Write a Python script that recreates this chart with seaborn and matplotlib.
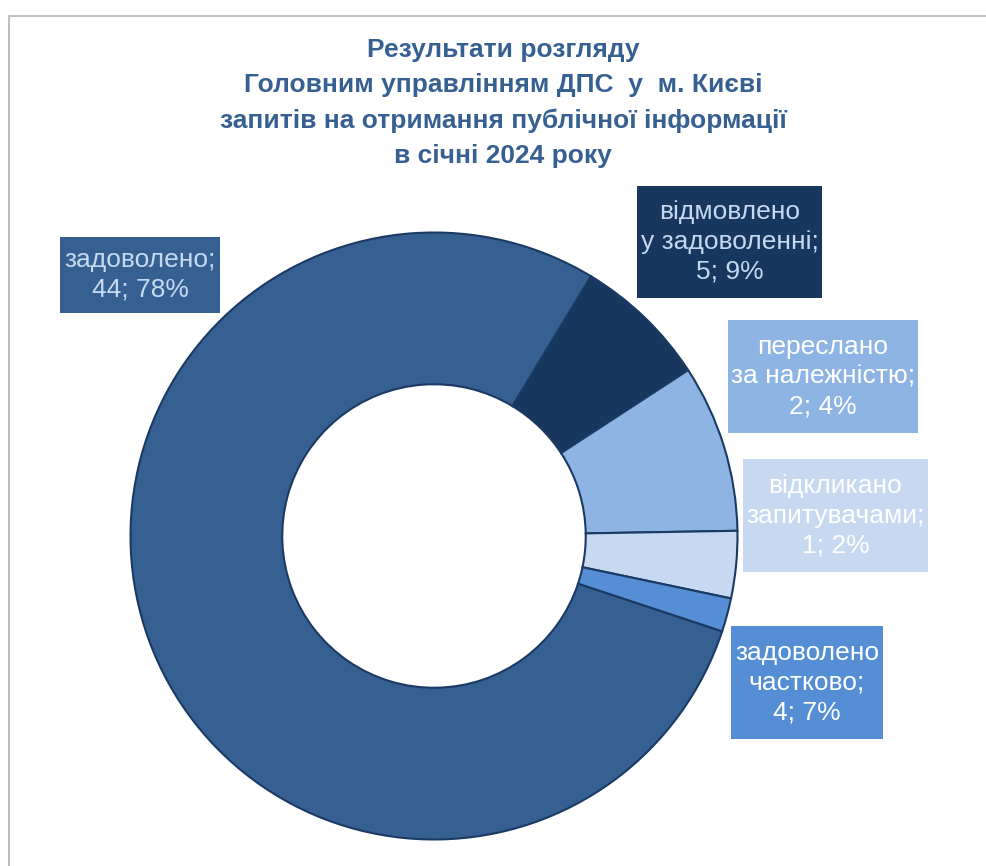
import matplotlib
matplotlib.use("Agg")
import matplotlib.pyplot as plt
from matplotlib.patches import Rectangle
from matplotlib.lines import Line2D
import seaborn as sns

# Дані: розміри секторів у тому порядку, як вони намальовані (за годинниковою стрілкою)
slice_counts = [44, 4, 5, 2, 1]
slice_colors = ["#376092", "#17375E", "#8EB4E3", "#C6D9F1", "#558ED5"]

# Підписи (як на оригіналі)
label_texts = ["задоволено;\n44; 78%",
               "відмовлено\nу задоволенні;\n5; 9%",
               "переслано\nза належністю;\n2; 4%",
               "відкликано\nзапитувачами;\n1; 2%",
               "задоволено\nчастково;\n4; 7%"]
label_box_colors = ["#376092", "#17375E", "#8EB4E3", "#C6D9F1", "#558ED5"]
label_text_colors = ["#C6D9F1", "#C6D9F1", "white", "white", "white"]

title = ("Результати розгляду\n"
         "Головним управлінням ДПС  у  м. Києві\n"
         "запитів на отримання публічної інформації\n"
         "в січні 2024 року")

sns.set_theme(style="white")
plt.rcParams["font.family"] = ["Liberation Sans", "DejaVu Sans"]

W, H = 986, 866
fig = plt.figure(figsize=(W / 100, H / 100), dpi=100)

# рамка (верх і ліво)
fig.add_artist(Line2D([9 / W, 9 / W], [0, 1 - 16 / H], color="#BFBFBF", lw=1.5))
fig.add_artist(Line2D([9 / W, 1], [1 - 16 / H, 1 - 16 / H], color="#BFBFBF", lw=1.5))

# осі під кільце: центр (434, 536), радіус 304 px
cx, cy, r = 434, 536, 305
ax = fig.add_axes([(cx - r) / W, (H - cy - r) / H, 2 * r / W, 2 * r / H])
ax.pie(slice_counts, colors=slice_colors, startangle=-18.3, counterclock=False,
       radius=1, wedgeprops=dict(width=0.5, edgecolor="#1B3A63", linewidth=1.5))
ax.set_xlim(-1.005, 1.005)
ax.set_ylim(-1.005, 1.005)
ax.set_axis_off()

# прямокутники підписів (x0, y0, x1, y1 у пікселях)
boxes = [(60, 237, 220, 313), (637, 186, 822, 298), (728, 320, 918, 433),
         (743, 459, 928, 572), (731, 626, 883, 739)]
for (x0, y0, x1, y1), txt, bc, tc in zip(boxes, label_texts, label_box_colors, label_text_colors):
    fig.add_artist(Rectangle((x0 / W, 1 - y1 / H), (x1 - x0) / W, (y1 - y0) / H,
                             transform=fig.transFigure, facecolor=bc, edgecolor="none"))
    fig.text((x0 + x1) / 2 / W, 1 - (y0 + y1) / 2 / H, txt, ha="center", va="center",
             color=tc, fontsize=19, linespacing=1.3)

fig.text(503 / W, 1 - 103 / H, title, ha="center", va="center", color="#376092",
         fontsize=19, fontweight="bold", linespacing=1.6)

fig.savefig("out.png", dpi=100, facecolor="white")
